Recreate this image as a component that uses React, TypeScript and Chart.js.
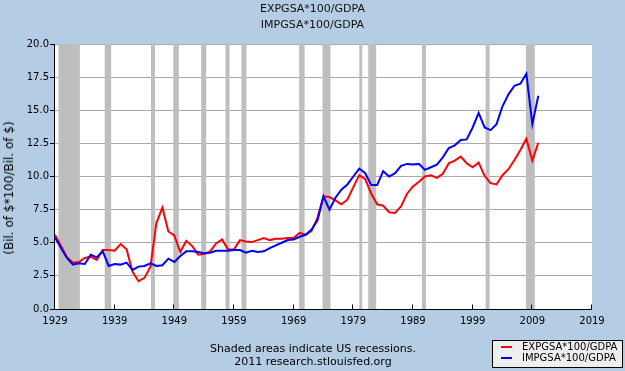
import React, { useEffect, useRef } from "react";
import { Chart, registerables } from "chart.js";

Chart.register(...registerables);

// ---- data ----
const years = [
  1929, 1930, 1931, 1932, 1933, 1934, 1935, 1936, 1937, 1938,
  1939, 1940, 1941, 1942, 1943, 1944, 1945, 1946, 1947, 1948,
  1949, 1950, 1951, 1952, 1953, 1954, 1955, 1956, 1957, 1958,
  1959, 1960, 1961, 1962, 1963, 1964, 1965, 1966, 1967, 1968,
  1969, 1970, 1971, 1972, 1973, 1974, 1975, 1976, 1977, 1978,
  1979, 1980, 1981, 1982, 1983, 1984, 1985, 1986, 1987, 1988,
  1989, 1990, 1991, 1992, 1993, 1994, 1995, 1996, 1997, 1998,
  1999, 2000, 2001, 2002, 2003, 2004, 2005, 2006, 2007, 2008,
  2009, 2010,
];

const exportsPct = [
  5.6, 4.75, 3.9, 3.5, 3.55, 3.85, 3.95, 3.7, 4.45, 4.45,
  4.4, 4.9, 4.5, 2.8, 2.1, 2.35, 3.2, 6.5, 7.65, 5.85,
  5.55, 4.3, 5.15, 4.75, 4.1, 4.15, 4.35, 4.95, 5.25, 4.5,
  4.5, 5.2, 5.1, 5.05, 5.2, 5.35, 5.2, 5.3, 5.3, 5.35,
  5.35, 5.75, 5.6, 5.9, 6.9, 8.5, 8.45, 8.2, 7.9, 8.25,
  9.2, 10.1, 9.8, 8.7, 7.9, 7.8, 7.3, 7.25, 7.75, 8.7,
  9.25, 9.6, 10.0, 10.1, 9.9, 10.2, 11.0, 11.2, 11.5, 11.0,
  10.7, 11.05, 10.05, 9.5, 9.4, 10.1, 10.55, 11.25, 12.0, 12.85,
  11.2, 12.55,
];

const importsPct = [
  5.4, 4.6, 3.85, 3.35, 3.45, 3.4, 4.1, 3.9, 4.35, 3.25,
  3.4, 3.35, 3.5, 2.95, 3.2, 3.25, 3.45, 3.25, 3.3, 3.8,
  3.55, 4.0, 4.35, 4.35, 4.3, 4.2, 4.25, 4.4, 4.4, 4.4,
  4.45, 4.45, 4.25, 4.4, 4.3, 4.35, 4.6, 4.8, 5.0, 5.2,
  5.25, 5.45, 5.6, 6.0, 6.7, 8.5, 7.5, 8.4, 9.0, 9.4,
  10.0, 10.6, 10.25, 9.35, 9.35, 10.4, 10.0, 10.25, 10.8, 10.95,
  10.9, 10.95, 10.5, 10.7, 10.9, 11.45, 12.15, 12.35, 12.75, 12.8,
  13.7, 14.8, 13.7, 13.5, 13.95, 15.3, 16.2, 16.85, 17.0, 17.75,
  13.95, 16.1,
];

// NBER recessions (decimal years, month-start)
const recessionStarts = [
  1929.583, 1937.333, 1945.083, 1948.833, 1953.5, 1957.583, 1960.25,
  1969.917, 1973.833, 1980.0, 1981.5, 1990.5, 2001.167, 2007.917,
];
const recessionEnds = [
  1933.167, 1938.417, 1945.75, 1949.75, 1954.333, 1958.25, 1961.083,
  1970.833, 1975.167, 1980.5, 1982.833, 1991.167, 2001.833, 2009.417,
];

const xTickValues = [1929, 1939, 1949, 1959, 1969, 1979, 1989, 1999, 2009, 2019];
const yTickValues = [0, 2.5, 5, 7.5, 10, 12.5, 15, 17.5, 20];

const titleLines = ["EXPGSA*100/GDPA", "IMPGSA*100/GDPA"];
const seriesLabels = ["EXPGSA*100/GDPA", "IMPGSA*100/GDPA"];
const seriesColors = ["#ff0000", "#0000ff"];
const yAxisTitle = "(Bil. of $*100/Bil. of $)";
const footerLines = ["Shaded areas indicate US recessions.", "2011 research.stlouisfed.org"];

// ---- styles ----
const BG = "#b4cde4";
const FONT = "'DejaVu Sans', sans-serif";

const fredPlugin = {
  id: "fredDecor",
  beforeDraw(chart: any) {
    const { ctx, chartArea: a } = chart;
    ctx.save();
    ctx.fillStyle = "#ffffff";
    ctx.fillRect(a.left, a.top, a.right - a.left, a.bottom - a.top);
    ctx.restore();
  },
  beforeDatasetsDraw(chart: any) {
    const { ctx, chartArea: a, scales } = chart;
    const xs = scales.x;
    ctx.save();
    ctx.fillStyle = "#bebebe";
    recessionStarts.forEach((s, i) => {
      const x0 = xs.getPixelForValue(s);
      const x1 = xs.getPixelForValue(recessionEnds[i]);
      ctx.fillRect(x0, a.top, x1 - x0, a.bottom - a.top);
    });
    ctx.restore();
  },
  afterDatasetsDraw(chart: any) {
    const { ctx, chartArea: a, scales } = chart;
    const xs = scales.x;
    ctx.save();
    ctx.strokeStyle = "#000000";
    ctx.lineWidth = 1;
    ctx.beginPath();
    const lx = Math.round(a.left) - 0.5;
    const by = Math.round(a.bottom) + 0.5;
    ctx.moveTo(lx, Math.round(a.top));
    ctx.lineTo(lx, by);
    ctx.lineTo(Math.round(a.right), by);
    xTickValues.forEach((v) => {
      const px = Math.round(xs.getPixelForValue(v)) - 0.5;
      ctx.moveTo(px, by);
      ctx.lineTo(px, by - 5);
    });
    ctx.stroke();
    ctx.restore();
  },
};

export default function App() {
  const canvasRef = useRef<HTMLCanvasElement | null>(null);

  useEffect(() => {
    document.body.style.margin = "0";
    const canvas = canvasRef.current;
    if (!canvas) return;
    const chart = new Chart(canvas, {
      type: "line",
      data: {
        datasets: [
          {
            label: seriesLabels[0],
            data: years.map((y, i) => ({ x: y, y: exportsPct[i] })),
            borderColor: seriesColors[0],
            backgroundColor: seriesColors[0],
            borderWidth: 2,
            pointRadius: 0,
            tension: 0,
            order: 2,
          },
          {
            label: seriesLabels[1],
            data: years.map((y, i) => ({ x: y, y: importsPct[i] })),
            borderColor: seriesColors[1],
            backgroundColor: seriesColors[1],
            borderWidth: 2,
            pointRadius: 0,
            tension: 0,
            order: 1,
          },
        ],
      },
      options: {
        animation: false,
        responsive: false,
        maintainAspectRatio: false,
        devicePixelRatio: 1,
        layout: { padding: { left: 0, top: 44, right: 33, bottom: 0 } },
        plugins: {
          legend: { display: false },
          title: { display: false },
          tooltip: { enabled: false },
        },
        scales: {
          x: {
            type: "linear",
            min: 1929,
            max: 2019,
            afterBuildTicks: (scale: any) => {
              scale.ticks = xTickValues.map((v) => ({ value: v }));
            },
            afterFit: (scale: any) => {
              scale.height = 62;
            },
            grid: { display: true, drawOnChartArea: false, drawTicks: false },
            border: { display: false },
            ticks: {
              autoSkip: false,
              maxRotation: 0,
              padding: 6,
              color: "#000000",
              font: { family: FONT, size: 10 },
              callback: (v: any) => String(v),
            },
          },
          y: {
            type: "linear",
            min: 0,
            max: 20,
            afterBuildTicks: (scale: any) => {
              scale.ticks = yTickValues.map((v) => ({ value: v }));
            },
            afterFit: (scale: any) => {
              scale.width = 55;
            },
            grid: {
              color: "#aaaaaa",
              tickColor: "#000000",
              tickLength: 5,
              lineWidth: 1,
            },
            border: { display: false },
            ticks: {
              padding: 1,
              color: "#000000",
              font: { family: FONT, size: 10 },
              callback: (v: any) => Number(v).toFixed(1),
            },
          },
        },
      },
      plugins: [fredPlugin],
    } as any);
    return () => chart.destroy();
  }, []);

  const textBase: React.CSSProperties = {
    position: "absolute",
    fontFamily: FONT,
    color: "#000000",
    whiteSpace: "nowrap",
  };

  return (
    <div
      style={{
        position: "absolute",
        left: 0,
        top: 0,
        width: 625,
        height: 371,
        background: BG,
        overflow: "hidden",
      }}
    >
      <canvas
        ref={canvasRef}
        width={625}
        height={371}
        style={{ position: "absolute", left: 0, top: 0, width: 625, height: 371 }}
      />
      {titleLines.map((t, i) => (
        <div
          key={"t" + i}
          style={{
            ...textBase,
            left: 0,
            width: 625,
            textAlign: "center",
            top: 2 + i * 16,
            fontSize: 11,
            lineHeight: "13px",
            color: "#111111",
          }}
        >
          {t}
        </div>
      ))}
      <div
        style={{
          ...textBase,
          left: 9,
          top: 188,
          fontSize: 12,
          lineHeight: "14px",
          transform: "translate(-50%, -50%) rotate(-90deg)",
        }}
      >
        {yAxisTitle}
      </div>
      {footerLines.map((t, i) => (
        <div
          key={"f" + i}
          style={{
            ...textBase,
            left: 0,
            width: 626,
            textAlign: "center",
            top: 342 + i * 13,
            fontSize: 11,
            lineHeight: "13px",
          }}
        >
          {t}
        </div>
      ))}
      <div
        style={{
          position: "absolute",
          left: 492,
          top: 340,
          width: 131,
          height: 28,
          boxSizing: "border-box",
          border: "1px solid #000000",
          background: "#eeeeee",
        }}
      >
        {seriesLabels.map((t, i) => (
          <React.Fragment key={"l" + i}>
            <div
              style={{
                position: "absolute",
                left: 8,
                top: 5 + i * 11,
                width: 11,
                height: 2,
                background: seriesColors[i],
              }}
            />
            <div
              style={{
                ...textBase,
                left: 29,
                top: 0 + i * 11,
                fontSize: 10,
                lineHeight: "12px",
              }}
            >
              {t}
            </div>
          </React.Fragment>
        ))}
      </div>
    </div>
  );
}
